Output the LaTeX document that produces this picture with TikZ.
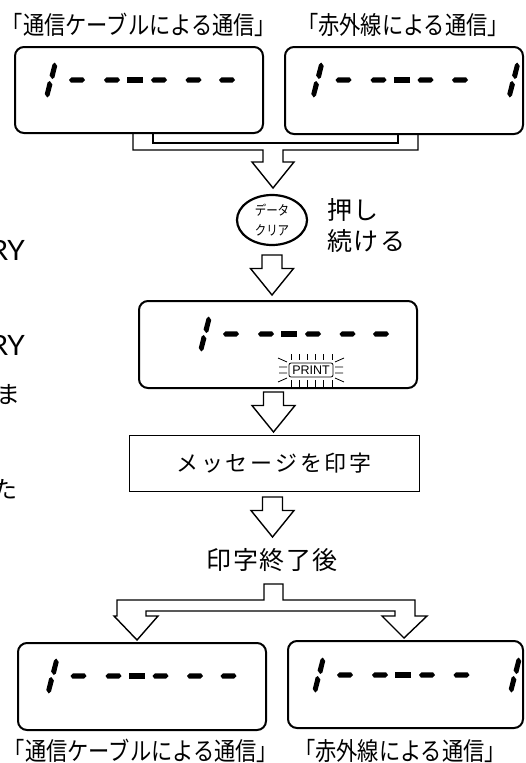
\documentclass[tikz,border=0pt]{standalone}
\usepackage{fontspec}
\usetikzlibrary{shapes.geometric}
\newfontfamily\jp{Noto Sans CJK JP}
\newfontfamily\jpnarrow[FakeStretch=0.85]{Noto Sans CJK JP}
\newfontfamily\latin{Lato}
\newfontfamily\lcd{Liberation Sans}

% Segmente der Anzeige (Mitte x,y; y nach unten)
\newcommand{\digitone}[2]{%
  \fill (#1+3.8,#2-17.5) -- (#1+6.2,#2-14) -- (#1+3.4,#2-2.5) -- (#1+1.2,#2-1) -- (#1-1.4,#2-4.5) -- (#1+1.5,#2-15.5) -- cycle;
  \fill (#1-3.8,#2+17.5) -- (#1-6.2,#2+14) -- (#1-3.4,#2+2.5) -- (#1-1.2,#2+1) -- (#1+1.4,#2+4.5) -- (#1-1.5,#2+15.5) -- cycle;}
\newcommand{\digitdash}[2]{%
  \fill (#1-8,#2) -- (#1-5.5,#2-2.7) -- (#1+6,#2-2.7) -- (#1+8,#2) -- (#1+5.5,#2+2.7) -- (#1-6,#2+2.7) -- cycle;}
\newcommand{\digitbar}[2]{\fill (#1-8,#2-2.7) rectangle (#1+8,#2+2.7);}
% ganze Zeile: 1 - ---- - (letztes Zeichen: 0 = Strich, 1 = Eins)
\newcommand{\displine}[3]{%
  \digitone{#1}{#2}
  \foreach \d in {26,61,108,142.5} {\digitdash{#1+\d}{#2}}
  \digitbar{#1+84}{#2}
  \ifnum#3=1 \digitone{#1+196}{#2}\else\digitdash{#1+176}{#2}\fi}
% Blockpfeil nach unten (Mitte x, oberer Rand y)
\newcommand{\hollowdown}[2]{%
  \draw[hollow] (#1-10,#2) -- (#1-10,#2+13.5) -- (#1-21.5,#2+13.5) -- (#1,#2+40) -- (#1+21.5,#2+13.5) -- (#1+10,#2+13.5) -- (#1+10,#2) -- cycle;}

\begin{document}
\begin{tikzpicture}[x=1pt, y=-1pt,
    disp/.style={draw, line width=2pt, rounded corners=9pt, inner sep=0pt},
    hollow/.style={line width=1.4pt, line join=miter},
    jplabel/.style={inner sep=0pt, font=\jpnarrow\fontsize{25}{27}\selectfont}]
    \useasboundingbox (0,0) rectangle (525,763);
    \clip (0,0) rectangle (525,763);
    % abgeschnittener Text am linken Rand
    \node[anchor=base east, inner sep=0pt, font=\latin\fontsize{28}{30}\selectfont] (ryA) at (25,260) {RY};
    \node[anchor=base east, inner sep=0pt, font=\latin\fontsize{28}{30}\selectfont] (ryB) at (25,355) {RY};
    \node[anchor=east, inner sep=0pt, font=\jp\fontsize{24}{26}\selectfont] (ma) at (21,395) {ま};
    \node[anchor=east, inner sep=0pt, font=\jp\fontsize{24}{26}\selectfont] (ta) at (18,489) {た};
    % Ueberschriften oben
    \node[jplabel] (labTL) at (139,25) {「通信ケーブルによる通信」};
    \node[jplabel] (labTR) at (403,25) {「赤外線による通信」};
    % Anzeigen oben
    \node[disp, minimum width=248, minimum height=86] (dispTL) at (139,90) {};
    \node[disp, minimum width=238, minimum height=87] (dispTR) at (404,90.5) {};
    \displine{51}{80}{0}
    \displine{317.5}{80}{1}
    % Zusammenfuehrung
    \draw[hollow] (133,133) -- (133,150) -- (263,150) -- (263,162) -- (252,162) -- (273,188) -- (294,162) -- (283,162) -- (283,150) -- (418,150) -- (418,133);
    \draw[hollow] (153,133) -- (153,143) -- (398,143) -- (398,133);
    % Taste
    \node[draw, ellipse, line width=2.2pt, minimum width=70, minimum height=50, inner sep=0pt, align=center,
          font=\jpnarrow\fontsize{13.5}{20}\selectfont] (clearkey) at (272,220) {データ\\クリア};
    \node[anchor=north west, align=left, inner sep=0pt,
          font=\jp\fontsize{25}{31}\selectfont\addfontfeature{LetterSpace=6}] (hold) at (327,198) {押し\\続ける};
    \hollowdown{272}{255}
    % mittlere Anzeige mit PRINT
    \node[disp, minimum width=278, minimum height=87] (dispM) at (278,344.5) {};
    \displine{205}{334}{0}
    \node[draw, rounded corners=2pt, line width=0.8pt, inner sep=0pt, minimum width=44, minimum height=14,
          font=\lcd\fontsize{12.5}{13}\selectfont] (printlamp) at (311,370) {PRINT};
    \foreach \i in {0,...,5} {
      \draw[line width=0.8pt] (291+8.2*\i,354) -- (291+8.2*\i,360);
      \draw[line width=0.8pt] (291+8.2*\i,380) -- (291+8.2*\i,387);
    }
    \draw[line width=0.8pt] (278,358) -- (287,362) (279,367) -- (287,367) (279,373) -- (287,373) (278,382) -- (287,378);
    \draw[line width=0.8pt] (344,358) -- (335,362) (343,367) -- (335,367) (343,373) -- (335,373) (344,382) -- (335,378);
    \hollowdown{273.5}{392}
    % Meldung
    \node[draw, line width=0.8pt, minimum width=290, minimum height=56,
          font=\jp\fontsize{22}{24}\selectfont\addfontfeature{LetterSpace=13}] (msg) at (274,463) {メッセージを印字};
    \hollowdown{272.5}{497}
    \node[inner sep=0pt, font=\jp\fontsize{25}{27}\selectfont\addfontfeature{LetterSpace=6}] (done) at (272,560) {印字終了後};
    % Verzweigung
    \draw[hollow] (117,616) -- (117,600) -- (264,600) -- (264,584) -- (283,584) -- (283,600) -- (415,600) -- (415,616)
      -- (427,616) -- (404,638) -- (382,616) -- (395,616) -- (395,611) -- (146,611) -- (146,616)
      -- (158,616) -- (137,640) -- (114,616) -- cycle;
    % Anzeigen unten
    \node[disp, minimum width=248, minimum height=87] (dispBL) at (142,686.5) {};
    \node[disp, minimum width=235, minimum height=87] (dispBR) at (405.5,684.5) {};
    \displine{52.5}{676}{0}
    \displine{319}{675}{1}
    \node[jplabel] (labBL) at (141,751) {「通信ケーブルによる通信」};
    \node[jplabel] (labBR) at (400,751) {「赤外線による通信」};
\end{tikzpicture}
\end{document}
